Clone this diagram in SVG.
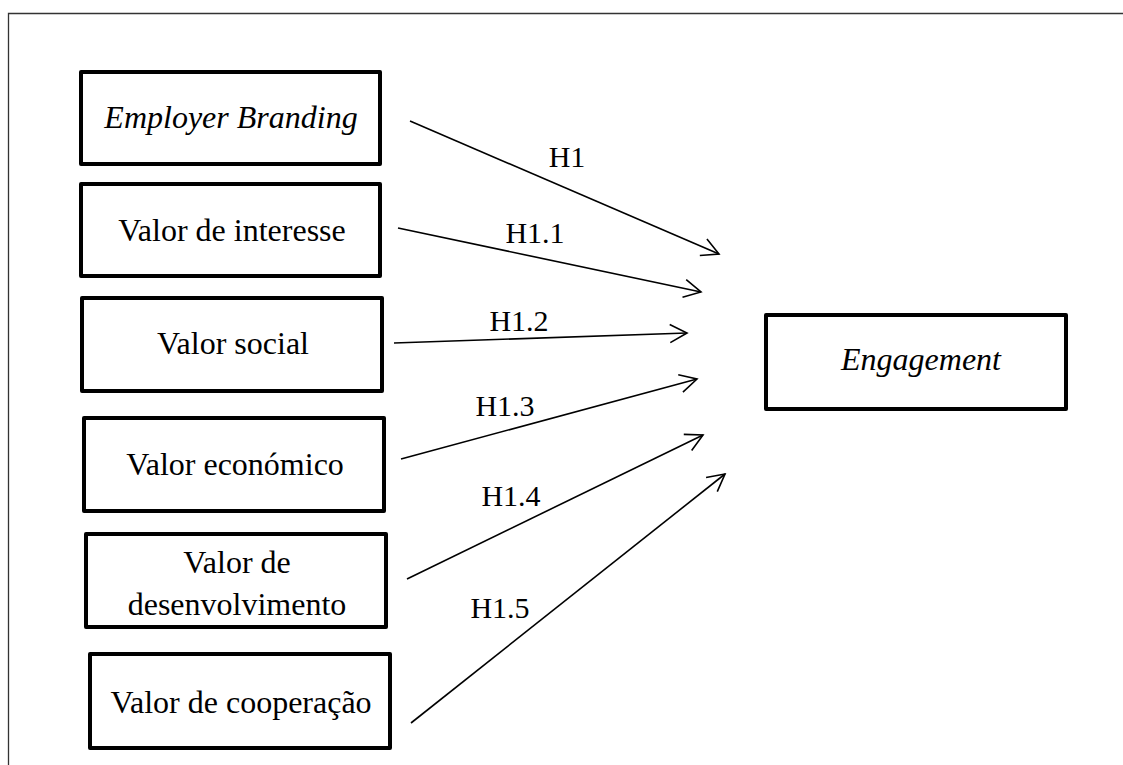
<svg xmlns="http://www.w3.org/2000/svg" width="1123" height="765" viewBox="0 0 1123 765">
<style>
.box{fill:#fff;stroke:#000;stroke-width:4;stroke-linejoin:round}
.t{font-family:"Liberation Serif","Times New Roman",serif;font-size:32px;fill:#000;text-anchor:middle}
.l{font-family:"Liberation Serif","Times New Roman",serif;font-size:30px;fill:#000;text-anchor:middle}
.i{font-style:italic}
.c{stroke:#000;stroke-width:1.6;fill:none;marker-end:url(#ah)}
</style>
<defs>
<marker id="ah" markerUnits="userSpaceOnUse" markerWidth="24" markerHeight="24" refX="20" refY="12" orient="auto" viewBox="0 0 24 24">
<path d="M3,3 L20,12 L3,21" fill="none" stroke="#000" stroke-width="1.6"/>
</marker>
</defs>
<rect width="1123" height="765" fill="#fff"/>
<path d="M8.5,765 V13.5 H1123" fill="none" stroke="#333" stroke-width="1.3"/>
<g id="n-employer"><rect class="box" x="81" y="72" width="299" height="92"/><text class="t i" x="231" y="128">Employer Branding</text></g>
<g id="n-interesse"><rect class="box" x="81" y="184" width="299" height="92"/><text class="t" x="232" y="241">Valor de interesse</text></g>
<g id="n-social"><rect class="box" x="82" y="298" width="300" height="93"/><text class="t" x="233" y="354">Valor social</text></g>
<g id="n-economico"><rect class="box" x="84" y="418" width="300" height="93"/><text class="t" x="235" y="475">Valor económico</text></g>
<g id="n-desenv"><rect class="box" x="86" y="534" width="300" height="93"/><text class="t" x="237" y="573">Valor de</text><text class="t" x="237" y="615">desenvolvimento</text></g>
<g id="n-coop"><rect class="box" x="90" y="654" width="300" height="94"/><text class="t" x="241" y="713">Valor de cooperação</text></g>
<g id="n-engagement"><rect class="box" x="766" y="315" width="300" height="94"/><text class="t i" x="921" y="370">Engagement</text></g>
<g id="connectors">
<line class="c" x1="410" y1="121" x2="719" y2="254"/>
<line class="c" x1="398" y1="228" x2="701" y2="292"/>
<line class="c" x1="394" y1="343" x2="687" y2="333"/>
<line class="c" x1="401" y1="459" x2="697" y2="379"/>
<line class="c" x1="407" y1="579" x2="703" y2="435"/>
<line class="c" x1="411" y1="723" x2="725" y2="474"/>
<text class="l" x="567" y="167">H1</text>
<text class="l" x="535" y="243">H1.1</text>
<text class="l" x="519" y="331">H1.2</text>
<text class="l" x="505" y="416">H1.3</text>
<text class="l" x="511" y="506">H1.4</text>
<text class="l" x="500" y="618">H1.5</text>
</g>
</svg>
